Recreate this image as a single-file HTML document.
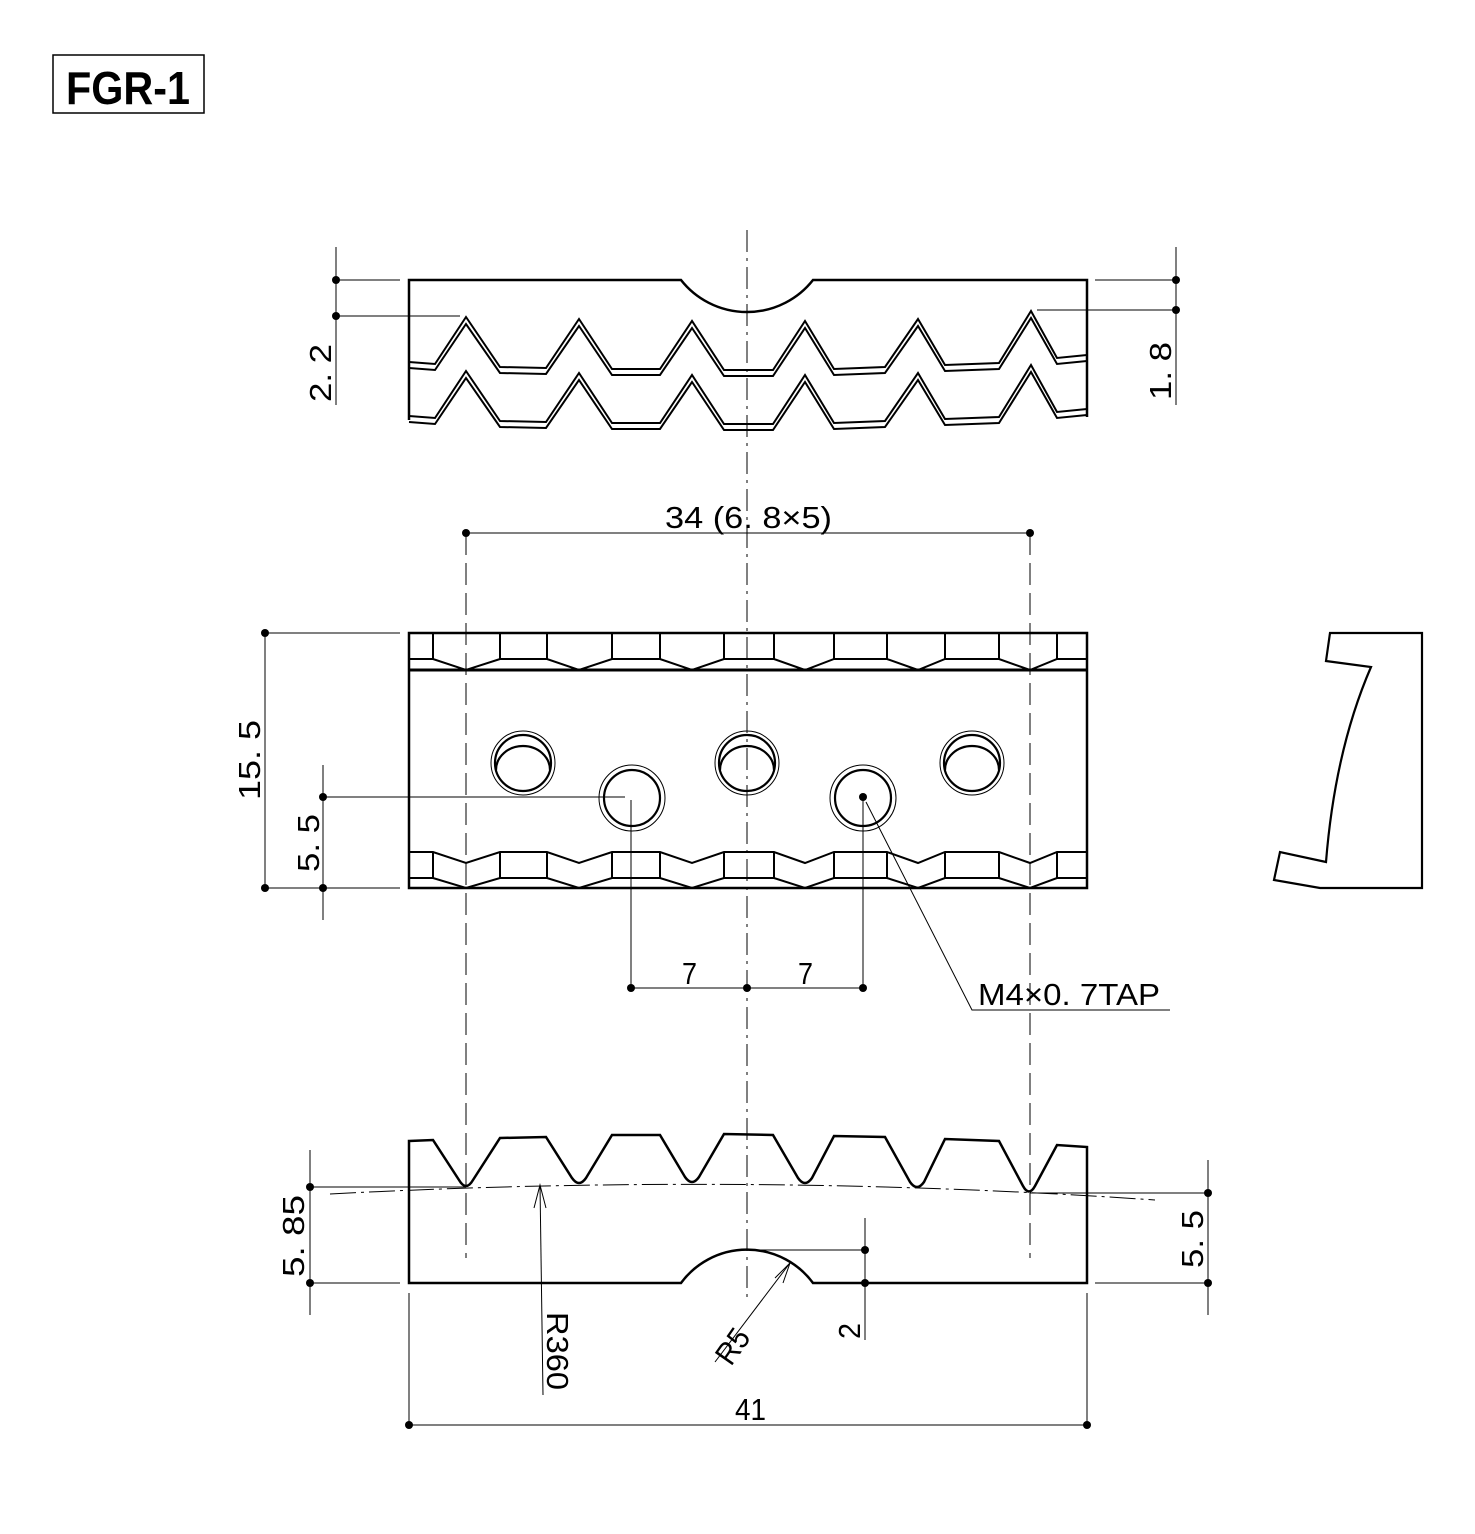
<!DOCTYPE html>
<html><head><meta charset="utf-8"><style>
html,body{margin:0;padding:0;background:#fff}
svg{display:block}
text{font-family:"Liberation Sans",sans-serif;fill:#000}
</style></head><body>
<svg width="1475" height="1534" viewBox="0 0 1475 1534" xmlns="http://www.w3.org/2000/svg">
<!-- title -->
<rect x="53" y="55" width="151" height="58" fill="none" stroke="#000" stroke-width="1.5"/>
<text x="66" y="104" font-size="46" font-weight="bold" textLength="124" lengthAdjust="spacingAndGlyphs">FGR-1</text>

<g fill="none" stroke="#000">
<line x1="747" y1="230" x2="747" y2="1300" stroke-width="1" stroke-dasharray="22,6,3,6"/>
<line x1="466" y1="533" x2="466" y2="1258" stroke-width="1" stroke-dasharray="22,8"/>
<line x1="1030" y1="533" x2="1030" y2="1258" stroke-width="1" stroke-dasharray="22,8"/>

<!-- TOP VIEW -->
<path d="M409,420 L409,280 L681,280 A84,84 0 0 0 813,280 L1087,280 L1087,417" stroke-width="2.5"/>
<g stroke-width="2">
<polyline points="409,362 435,364 466,317 500,367 546,368 579,319 612,369 660,369 692,321 724,370 773,370 805,321 834,369 885,367 918,319 945,365 999,363 1031,311 1057,358 1087,355"/>
<polyline points="409,368 435,370 466,324 500,373 546,374 579,326 612,375 660,375 692,328 724,376 773,376 805,328 834,375 885,373 918,326 945,371 999,369 1031,318 1057,364 1087,361"/>
<polyline points="409,416 435,418 466,371 500,421 546,422 579,373 612,423 660,423 692,375 724,424 773,424 805,375 834,423 885,421 918,373 945,419 999,417 1031,365 1057,412 1087,409"/>
<polyline points="409,422 435,424 466,378 500,427 546,428 579,380 612,429 660,429 692,382 724,430 773,430 805,382 834,429 885,427 918,380 945,425 999,423 1031,372 1057,418 1087,415"/>
</g>

<!-- MIDDLE VIEW -->
<rect x="409" y="633" width="678" height="255" stroke-width="2.5"/>
<line x1="409" y1="670" x2="1087" y2="670" stroke-width="3"/>
<g stroke-width="2">
<path d="M433,633V659 M500,633V659 M547,633V659 M612,633V659 M660,633V659 M724,633V659 M774,633V659 M834,633V659 M887,633V659 M945,633V659 M999,633V659 M1057,633V659"/>
<path d="M409,659H433 L466,670 L500,659 H547 L579,670 L612,659 H660 L692,670 L724,659 H774 L805,670 L834,659 H887 L918,670 L945,659 H999 L1030,670 L1057,659 H1087"/>
<path d="M409,852H433 L466,863 L500,852 H547 L579,863 L612,852 H660 L692,863 L724,852 H774 L805,863 L834,852 H887 L918,863 L945,852 H999 L1030,863 L1057,852 H1087"/>
<path d="M433,852V878 M500,852V878 M547,852V878 M612,852V878 M660,852V878 M724,852V878 M774,852V878 M834,852V878 M887,852V878 M945,852V878 M999,852V878 M1057,852V878"/>
<path d="M409,878H433 L466,888 L500,878 H547 L579,888 L612,878 H660 L692,888 L724,878 H774 L805,888 L834,878 H887 L918,888 L945,878 H999 L1030,888 L1057,878 H1087"/>
</g>
<g>
<circle cx="523" cy="763" r="32" stroke-width="1"/>
<circle cx="523" cy="763" r="28" stroke-width="2.2"/>
<path d="M496,770 A27,24 0 0 1 550,770" stroke-width="2.2"/>
<circle cx="747" cy="763" r="32" stroke-width="1"/>
<circle cx="747" cy="763" r="28" stroke-width="2.2"/>
<path d="M720,770 A27,24 0 0 1 774,770" stroke-width="2.2"/>
<circle cx="972" cy="763" r="32" stroke-width="1"/>
<circle cx="972" cy="763" r="28" stroke-width="2.2"/>
<path d="M945,770 A27,24 0 0 1 999,770" stroke-width="2.2"/>
<circle cx="632" cy="798" r="33" stroke-width="1"/>
<circle cx="632" cy="798" r="28" stroke-width="2.2"/>
<circle cx="863" cy="798" r="33" stroke-width="1"/>
<circle cx="863" cy="798" r="28" stroke-width="2.2"/>
</g>

<!-- SIDE VIEW -->
<path d="M1330,633 L1422,633 L1422,888 L1320,888 L1274,880 L1280,852 L1326,862 Q1335,750 1371,667 L1326,661 Z" stroke-width="2.2"/>

<!-- BOTTOM VIEW -->
<path d="M409,1141 L433,1140 L459,1180 Q466,1192 473,1180 L500,1138 L546,1137 L572,1178 Q579,1188 586,1178 L612,1135 L660,1135 L685,1177 Q692,1187 699,1177 L724,1134 L773,1135 L798,1178 Q805,1188 812,1178 L834,1136 L885,1137 L910,1182 Q917,1192 924,1182 L945,1139 L999,1141 L1023,1186 Q1029,1197 1035,1186 L1057,1145 L1087,1147 L1087,1283 L813,1283 A82,82 0 0 0 681,1283 L409,1283 Z" stroke-width="2.5"/>
<path d="M330,1194 Q747,1172 1155,1200" stroke-width="1" stroke-dasharray="26,5,3,5"/>
</g>

<g stroke="#000" stroke-width="1" fill="none">
<line x1="336" y1="247" x2="336" y2="405"/>
<line x1="336" y1="280" x2="400" y2="280"/>
<line x1="336" y1="316" x2="460" y2="316"/>
<line x1="1176" y1="247" x2="1176" y2="405"/>
<line x1="1095" y1="280" x2="1176" y2="280"/>
<line x1="1037" y1="310" x2="1176" y2="310"/>
<line x1="466" y1="533" x2="1030" y2="533"/>
<line x1="265" y1="633" x2="265" y2="888"/>
<line x1="265" y1="633" x2="400" y2="633"/>
<line x1="265" y1="888" x2="400" y2="888"/>
<line x1="323" y1="765" x2="323" y2="920"/>
<line x1="323" y1="797" x2="625" y2="797"/>
<line x1="323" y1="888" x2="400" y2="888"/>
<line x1="631" y1="800" x2="631" y2="988"/>
<line x1="863" y1="800" x2="863" y2="988"/>
<line x1="631" y1="988" x2="863" y2="988"/>
<polyline points="866,802 972,1010 1170,1010"/>
<line x1="310" y1="1150" x2="310" y2="1315"/>
<line x1="310" y1="1187" x2="466" y2="1187"/>
<line x1="310" y1="1283" x2="400" y2="1283"/>
<line x1="1208" y1="1160" x2="1208" y2="1315"/>
<line x1="1030" y1="1193" x2="1208" y2="1193"/>
<line x1="1095" y1="1283" x2="1208" y2="1283"/>
<line x1="865" y1="1218" x2="865" y2="1340"/>
<line x1="747" y1="1250" x2="865" y2="1250"/>
<line x1="409" y1="1293" x2="409" y2="1425"/>
<line x1="1087" y1="1293" x2="1087" y2="1425"/>
<line x1="409" y1="1425" x2="1087" y2="1425"/>
<line x1="540" y1="1185" x2="543" y2="1395"/>
<polyline points="534,1208 540,1185 546,1208"/>
<line x1="790" y1="1263" x2="715" y2="1362"/>
<polyline points="775,1278 790,1263 783,1283"/>
</g>
<g fill="#000">
<circle cx="336" cy="280" r="4"/><circle cx="336" cy="316" r="4"/>
<circle cx="1176" cy="280" r="4"/><circle cx="1176" cy="310" r="4"/>
<circle cx="466" cy="533" r="4"/><circle cx="1030" cy="533" r="4"/>
<circle cx="265" cy="633" r="4"/><circle cx="265" cy="888" r="4"/>
<circle cx="323" cy="797" r="4"/><circle cx="323" cy="888" r="4"/>
<circle cx="631" cy="988" r="4"/><circle cx="747" cy="988" r="4"/><circle cx="863" cy="988" r="4"/>
<circle cx="863" cy="797" r="4"/>
<circle cx="310" cy="1187" r="4"/><circle cx="310" cy="1283" r="4"/>
<circle cx="1208" cy="1193" r="4"/><circle cx="1208" cy="1283" r="4"/>
<circle cx="865" cy="1250" r="4"/><circle cx="865" cy="1283" r="4"/>
<circle cx="409" cy="1425" r="4"/><circle cx="1087" cy="1425" r="4"/>
</g>

<g font-size="31">
<text x="665" y="528" textLength="167" lengthAdjust="spacingAndGlyphs">34 (6. 8×5)</text>
<text x="682" y="984" textLength="15" lengthAdjust="spacingAndGlyphs">7</text>
<text x="798" y="984" textLength="15" lengthAdjust="spacingAndGlyphs">7</text>
<text x="978" y="1005" textLength="182" lengthAdjust="spacingAndGlyphs">M4×0. 7TAP</text>
<text x="735" y="1420" textLength="31" lengthAdjust="spacingAndGlyphs">41</text>
<text transform="translate(331,402) rotate(-90)" textLength="58" lengthAdjust="spacingAndGlyphs">2. 2</text>
<text transform="translate(1171,400) rotate(-90)" textLength="58" lengthAdjust="spacingAndGlyphs">1. 8</text>
<text transform="translate(260,800) rotate(-90)" textLength="80" lengthAdjust="spacingAndGlyphs">15. 5</text>
<text transform="translate(319,872) rotate(-90)" textLength="58" lengthAdjust="spacingAndGlyphs">5. 5</text>
<text transform="translate(304,1277) rotate(-90)" textLength="82" lengthAdjust="spacingAndGlyphs">5. 85</text>
<text transform="translate(1203,1268) rotate(-90)" textLength="58" lengthAdjust="spacingAndGlyphs">5. 5</text>
<text transform="translate(860,1339) rotate(-90)" textLength="16" lengthAdjust="spacingAndGlyphs">2</text>
<text transform="translate(547,1312) rotate(90)" textLength="78" lengthAdjust="spacingAndGlyphs">R360</text>
<text transform="translate(731,1367) rotate(-55)" textLength="36" lengthAdjust="spacingAndGlyphs">R5</text>
</g>
</svg>
</body></html>
